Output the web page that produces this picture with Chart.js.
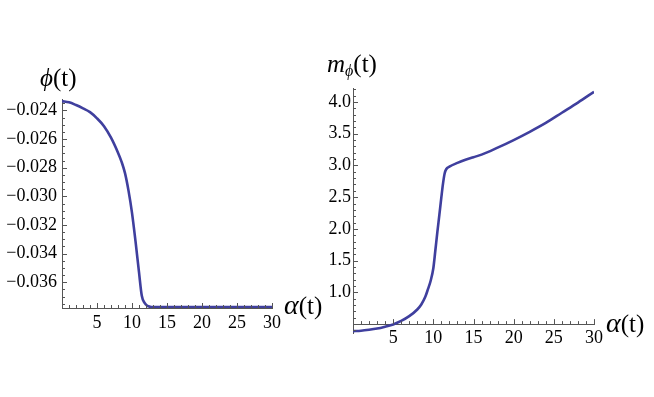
<!DOCTYPE html>
<html>
<head>
<meta charset="utf-8">
<script src="https://cdn.jsdelivr.net/npm/chart.js@4.4.1/dist/chart.umd.min.js"></script>
<style>
  html, body { margin: 0; padding: 0; background: #fff; }
  #wrap { position: relative; width: 654px; height: 397px; }
  .panel { position: absolute; top: 0; width: 327px; height: 397px; }
</style>
</head>
<body>
<div id="wrap">
  <div class="panel" style="left:0"><canvas id="phiChart" width="327" height="397"></canvas></div>
  <div class="panel" style="left:327px"><canvas id="massChart" width="327" height="397"></canvas></div>
</div>
<script>
// values
const phiAlpha = [0, 1, 2, 3, 4, 5, 6, 7, 8, 8.5, 9, 9.5, 10, 10.5, 11, 11.4, 11.8, 12.2, 12.6, 13,
    14, 15, 20, 25, 30];
const phiValues = [-0.02335, -0.02343, -0.02362, -0.02385, -0.02412, -0.02455, -0.02510, -0.02590,
    -0.02695, -0.02757, -0.02838, -0.02960, -0.03115, -0.03313, -0.03530, -0.03695, -0.03745,
    -0.03765, -0.03771, -0.03773, -0.03774, -0.03774, -0.03774, -0.03774, -0.03774];

const massAlpha = [0, 1, 2, 3, 4, 5, 6, 7, 8, 8.5, 9, 9.33, 9.66, 10, 10.25, 10.5, 10.75, 11, 11.2,
    11.4, 11.6, 12, 13, 14, 15, 16, 18, 20, 22, 24, 26, 28, 30];
const massValues = [0.39, 0.395, 0.41, 0.43, 0.46, 0.495, 0.55, 0.625, 0.73, 0.81, 0.93, 1.05, 1.18,
    1.38, 1.66, 1.95, 2.22, 2.50, 2.71, 2.87, 2.94, 2.98, 3.04, 3.09, 3.13, 3.17, 3.28, 3.40, 3.53,
    3.67, 3.83, 3.99, 4.16];

const alphaTicks = [5, 10, 15, 20, 25, 30];
const phiTicks = [-0.024, -0.026, -0.028, -0.030, -0.032, -0.034, -0.036];
const massTicks = [1.0, 1.5, 2.0, 2.5, 3.0, 3.5, 4.0];

const SERIF = "'Liberation Serif', 'DejaVu Serif', serif";
const LINE = '#3f3f9e';
const AXIS = '#555';

function drawParts(ctx, parts, x, y) {
    let cx = x;
    parts.forEach(p => {
        ctx.font = (p.italic ? 'italic ' : '') + p.size + 'px ' + SERIF;
        ctx.fillText(p.t, cx, y + (p.dy || 0));
        cx += ctx.measureText(p.t).width;
    });
}

// Mathematica-style ticks pointing into the plot, plus the axis titles
const innerTicks = {
    id: 'innerTicks',
    afterDraw(chart, args, o) {
        const { ctx, chartArea, scales: { x, y } } = chart;
        const axisY = o.axisAt === undefined ? chartArea.bottom : y.getPixelForValue(o.axisAt);
        const axisX = chartArea.left;
        ctx.save();
        ctx.strokeStyle = AXIS;
        ctx.lineWidth = 1;
        ctx.beginPath();
        for (let k = 1; k <= Math.round(x.max / o.xMinor); k++) {
            const v = k * o.xMinor;
            const major = alphaTicks.some(m => Math.abs(m - v) < 1e-9);
            const px = Math.round(x.getPixelForValue(v)) + 0.5;
            ctx.moveTo(px, axisY);
            ctx.lineTo(px, axisY - (major ? 5 : 3));
        }
        const k0 = Math.ceil(y.min / o.yMinor - 1e-6);
        const k1 = Math.floor(y.max / o.yMinor + 1e-6);
        for (let k = k0; k <= k1; k++) {
            const v = k * o.yMinor;
            const major = o.yMajor.some(m => Math.abs(m - v) < o.yMinor * 1e-3);
            const py = Math.round(y.getPixelForValue(v)) + 0.5;
            ctx.moveTo(axisX, py);
            ctx.lineTo(axisX + (major ? 5 : 3), py);
        }
        ctx.stroke();

        ctx.fillStyle = '#000';
        ctx.textBaseline = 'alphabetic';
        ctx.textAlign = 'left';
        drawParts(ctx, o.yTitle, chartArea.left + o.yTitleDx, chartArea.top + o.yTitleDy);
        drawParts(ctx, [
            { t: 'α', italic: true, size: 28 },
            { t: '(t)', size: 25 }
        ], chartArea.right + 12, axisY + o.xTitleDy);
        ctx.restore();
    }
};

function makeChart(id, xs, ys, cfg) {
    const tickFont = { family: SERIF, size: 18 };
    return new Chart(document.getElementById(id), {
        type: 'line',
        data: {
            datasets: [{
                data: xs.map((x, i) => ({ x: x, y: ys[i] })),
                borderColor: LINE,
                borderWidth: 2.6,
                pointRadius: 0,
                fill: false,
                cubicInterpolationMode: 'monotone'
            }]
        },
        options: {
            responsive: false,
            animation: false,
            layout: { padding: cfg.padding },
            plugins: {
                legend: { display: false },
                tooltip: { enabled: false },
                innerTicks: cfg.ticks
            },
            scales: {
                x: {
                    type: 'linear',
                    min: 0,
                    max: 30,
                    position: cfg.xPosition,
                    afterBuildTicks: s => { s.ticks = alphaTicks.map(v => ({ value: v })); },
                    afterFit: s => { if (cfg.xHeight) s.height = cfg.xHeight; },
                    ticks: {
                        font: tickFont,
                        color: '#000',
                        padding: cfg.xPad,
                        maxRotation: 0,
                        autoSkip: false,
                        callback: v => String(v)
                    },
                    grid: { drawOnChartArea: false, drawTicks: false },
                    border: { display: true, color: AXIS, width: 1 }
                },
                y: {
                    type: 'linear',
                    min: cfg.yMin,
                    max: cfg.yMax,
                    position: 'left',
                    afterBuildTicks: s => { s.ticks = cfg.yTicks.map(v => ({ value: v })); },
                    afterFit: s => { s.width = cfg.yWidth; },
                    ticks: {
                        font: tickFont,
                        color: '#000',
                        padding: cfg.yPad,
                        autoSkip: false,
                        callback: cfg.yFormat
                    },
                    grid: { drawOnChartArea: false, drawTicks: false },
                    border: { display: true, color: AXIS, width: 1 }
                }
            }
        },
        plugins: [innerTicks]
    });
}

makeChart('phiChart', phiAlpha, phiValues, {
    padding: { top: 99, right: 55, bottom: 59, left: 0 },
    xPosition: 'bottom',
    xHeight: 30,
    xPad: 4,
    yMin: -0.0378,
    yMax: -0.0232,
    yTicks: phiTicks,
    yWidth: 62,
    yPad: 5,
    yFormat: v => '\u2212' + Math.abs(v).toFixed(3),
    ticks: {
        xMinor: 1,
        yMinor: 0.0005,
        yMajor: phiTicks,
        xTitleDy: 6,
        yTitleDx: -22,
        yTitleDy: -13,
        yTitle: [
            { t: '\u03d5', italic: true, size: 25 },
            { t: '(t)', size: 25 }
        ]
    }
});

makeChart('massChart', massAlpha, massValues, {
    padding: { top: 88, right: 60, bottom: 64, left: 0 },
    xPosition: { y: 0.5 },
    xPad: 3,
    yMin: 0.36,
    yMax: 4.22,
    yTicks: massTicks,
    yWidth: 26,
    yPad: 2,
    yFormat: v => v.toFixed(1),
    ticks: {
        axisAt: 0.5,
        xMinor: 1,
        yMinor: 0.1,
        yMajor: massTicks,
        xTitleDy: 8,
        yTitleDx: -26,
        yTitleDy: -16,
        yTitle: [
            { t: 'm', italic: true, size: 25 },
            { t: '\u03d5', italic: true, size: 16, dy: 4 },
            { t: '(t)', size: 25 }
        ]
    }
});
</script>
</body>
</html>
